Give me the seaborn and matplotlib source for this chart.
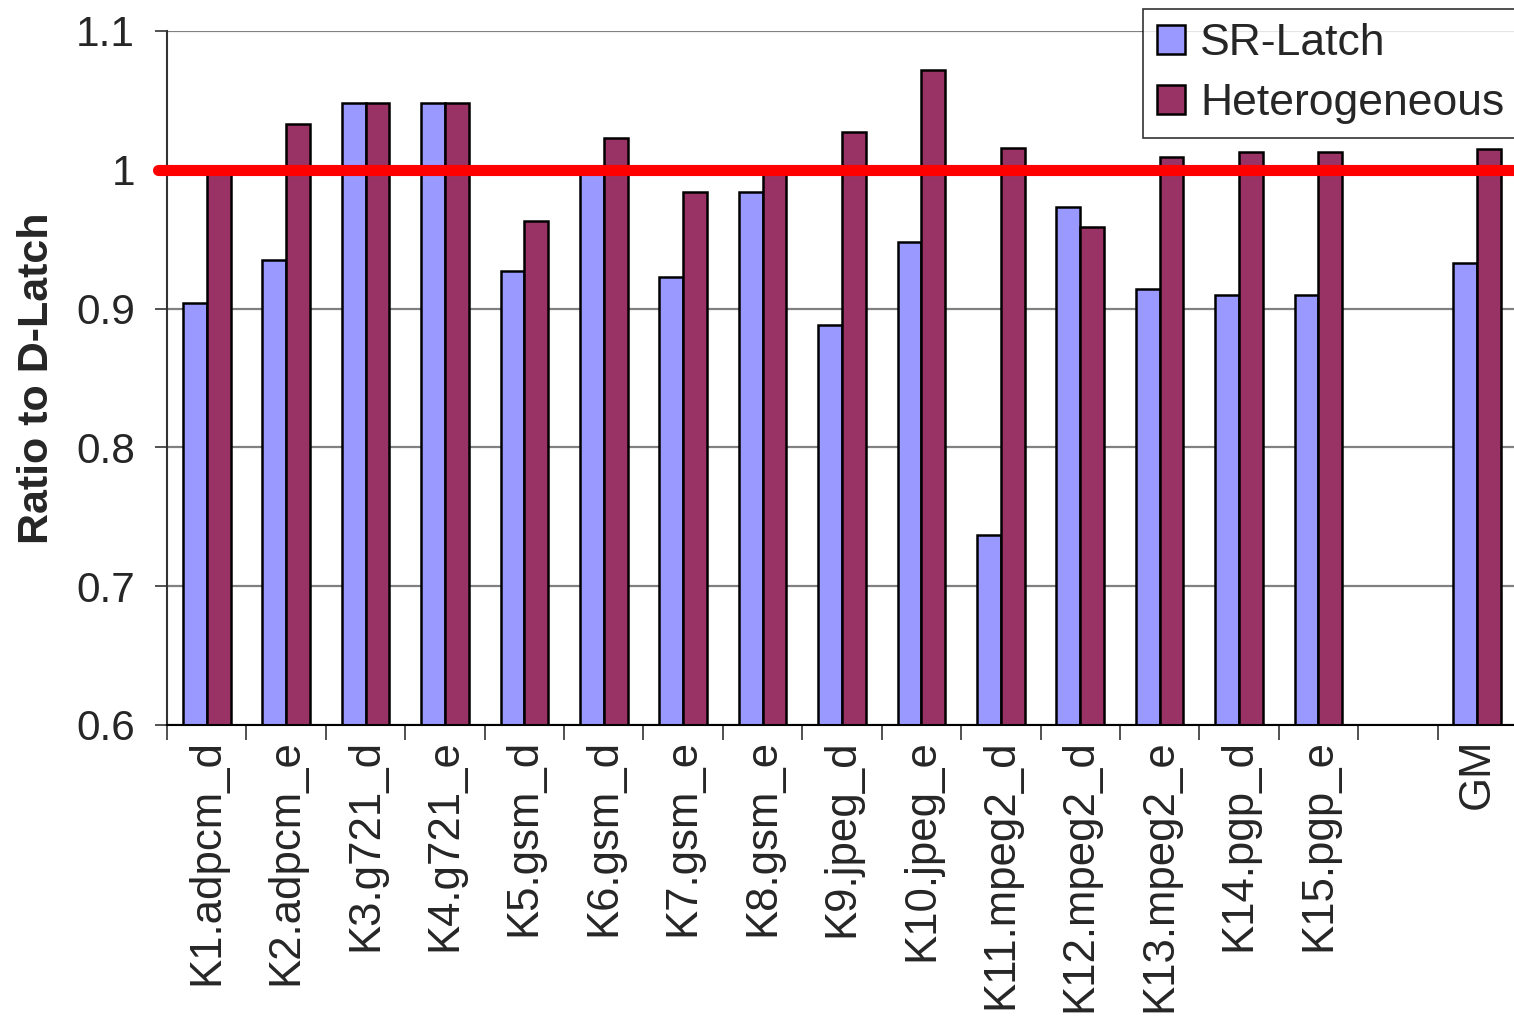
import matplotlib
matplotlib.use("Agg")
import matplotlib.pyplot as plt
import seaborn as sns
import pandas as pd
import numpy as np

benchmarks = ["K1.adpcm_d", "K2.adpcm_e", "K3.g721_d", "K4.g721_e", "K5.gsm_d",
              "K6.gsm_d", "K7.gsm_e", "K8.gsm_e", "K9.jpeg_d", "K10.jpeg_e",
              "K11.mpeg2_d", "K12.mpeg2_d", "K13.mpeg2_e", "K14.pgp_d", "K15.pgp_e",
              " ", "GM"]
sr_latch = [0.904, 0.935, 1.048, 1.048, 0.927, 1.001, 0.923, 0.984, 0.888, 0.948,
            0.737, 0.973, 0.914, 0.910, 0.910, np.nan, 0.933]
heterogeneous = [1.000, 1.033, 1.048, 1.048, 0.963, 1.023, 0.984, 1.003, 1.027, 1.072,
                 1.016, 0.959, 1.009, 1.013, 1.013, np.nan, 1.015]
series = ["SR-Latch", "Heterogeneous"]
colors = ["#9999FF", "#993366"]

df = pd.DataFrame({
    "bench": benchmarks * 2,
    "config": [series[0]] * len(benchmarks) + [series[1]] * len(benchmarks),
    "ratio": sr_latch + heterogeneous,
})

sns.set_style("white")
plt.rcParams["font.family"] = ["Liberation Sans", "DejaVu Sans"]

fig = plt.figure(figsize=(15.14, 10.16), dpi=100)
ax = fig.add_axes([167 / 1514, 1 - 725 / 1016, 1350 / 1514, 694 / 1016])

sns.barplot(data=df, x="bench", y="ratio", hue="config", order=benchmarks,
            hue_order=series, palette=colors, width=0.6, edgecolor="black",
            linewidth=1.8, saturation=1, ax=ax, legend=False)

ax.set_xlim(-0.5, len(benchmarks) - 0.5)
ax.set_ylim(0.6, 1.1)
yt = [0.6, 0.7, 0.8, 0.9, 1.0, 1.1]
ax.set_yticks(yt)
ax.set_yticklabels(["0.6", "0.7", "0.8", "0.9", "1", "1.1"], fontsize=30.5)
ax.tick_params(axis="y", length=9, width=1.2, color="#333333", pad=14, left=True)

ax.set_xticks(range(len(benchmarks)))
ax.set_xticklabels(benchmarks, rotation=90, fontsize=31.5, va="top", ha="center")
ax.set_xticks(np.arange(-0.5, len(benchmarks), 1), minor=True)
ax.tick_params(axis="x", which="major", length=0, pad=10)
ax.tick_params(axis="x", which="minor", length=11, width=1.2, color="#333333", bottom=True)

ax.yaxis.grid(True, color="#808080", linewidth=1.6)
ax.set_axisbelow(True)
ax.set_xlabel("")
ax.set_ylabel("Ratio to D-Latch", fontsize=31, fontweight="bold", labelpad=14)

for s in ["top", "right"]:
    ax.spines[s].set_visible(False)
ax.spines["left"].set_color("#333333")
ax.spines["left"].set_linewidth(1.5)
ax.spines["bottom"].set_color("black")
ax.spines["bottom"].set_linewidth(1.5)

ax.axhline(1.0, xmin=-0.007, xmax=1, color="red", linewidth=8,
           clip_on=False, zorder=5)

handles = [plt.Rectangle((0, 0), 1, 1, facecolor=c, edgecolor="black", linewidth=1.8)
           for c in colors]
leg = fig.legend(handles, series, loc="upper left",
                 bbox_to_anchor=(1143 / 1514, 1 - 9 / 1016),
                 bbox_transform=fig.transFigure, fontsize=32, frameon=True,
                 fancybox=False, borderpad=0.32, labelspacing=0.42,
                 handlelength=0.62, handleheight=0.62, handletextpad=0.35,
                 borderaxespad=0)
leg.get_frame().set_edgecolor("black")
leg.get_frame().set_linewidth(1.2)

fig.savefig("out.png", dpi=100)
